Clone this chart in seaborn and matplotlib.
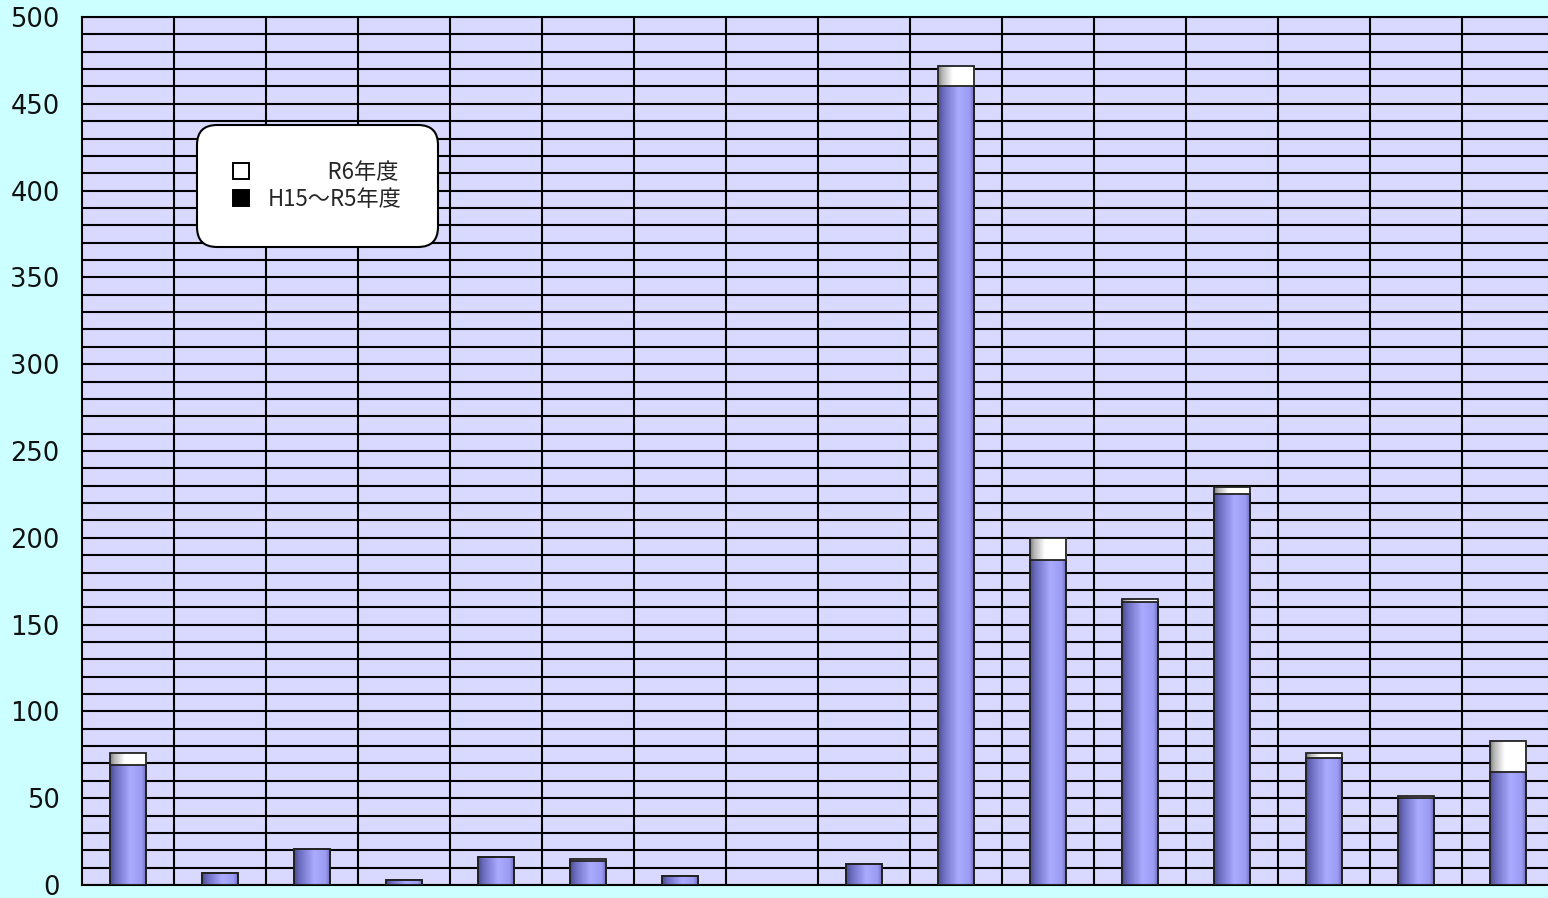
import numpy as np
import pandas as pd
import matplotlib
matplotlib.use("Agg")
import matplotlib.pyplot as plt
from matplotlib.colors import LinearSegmentedColormap
from matplotlib.patches import Patch
import seaborn as sns

# ---- data ----
categories = [f"区分{i}" for i in range(1, 17)]
h15_r5 = [69, 7, 21, 3, 16, 14, 5, 0, 12, 460, 187, 163, 225, 73, 50, 65]
r6 = [7, 0, 0, 0, 0, 1, 0, 0, 0, 12, 13, 2, 4, 3, 1, 18]
legend_labels = ["R6年度", "H15～R5年度"]
y_ticks = [0, 50, 100, 150, 200, 250, 300, 350, 400, 450, 500]

totals = [a + b for a, b in zip(h15_r5, r6)]
df = pd.DataFrame({"cat": categories, "bottom": h15_r5, "total": totals})

sns.set_theme(style="white")
plt.rcParams["font.family"] = ["Noto Sans CJK JP", "DejaVu Sans"]

fig = plt.figure(figsize=(15.48, 8.98), dpi=100, facecolor="#CCFFFF")
ax = fig.add_axes([82 / 1548, 13 / 898, 1472 / 1548, 868 / 898])
ax.set_facecolor("#D9D9FF")

sns.barplot(data=df, x="cat", y="total", color="white", width=0.4,
            edgecolor="#222222", linewidth=1.3, saturation=1, ax=ax)
n_tot = len(ax.patches)
sns.barplot(data=df, x="cat", y="bottom", color="#9999FF", width=0.4,
            edgecolor="#222222", linewidth=1.3, saturation=1, ax=ax)

blue_cmap = LinearSegmentedColormap.from_list(
    "b", [(0, "#4a4a8c"), (0.15, "#6c6cc0"), (0.55, "#aaaaff"), (0.85, "#9c9cf4"), (1, "#6a6ab8")])
white_cmap = LinearSegmentedColormap.from_list(
    "w", [(0, "#7a7a7a"), (0.12, "#b8b8b8"), (0.4, "#ffffff"), (1, "#ffffff")])
grad = np.linspace(0, 1, 256).reshape(1, -1)

for i, p in enumerate(list(ax.patches)):
    h = p.get_height()
    if h <= 0:
        continue
    x, y, w = p.get_x(), p.get_y(), p.get_width()
    cmap = white_cmap if i < n_tot else blue_cmap
    im = ax.imshow(grad, cmap=cmap, extent=[x, x + w, y, y + h], aspect="auto",
                   zorder=2, interpolation="bilinear")
    im.set_clip_path(p)
    p.set_facecolor("none")
    p.set_zorder(3)

ax.set_xlim(-0.5, len(categories) - 0.5)
ax.set_ylim(0, 500)
ax.set_yticks(y_ticks)
ax.set_yticks(np.arange(0, 501, 10), minor=True)
ax.set_xticks(np.arange(0.5, len(categories) - 0.5, 1), minor=True)
ax.set_xticks([])
ax.set_xlabel("")
ax.set_ylabel("")
ax.grid(True, which="minor", axis="both", color="black", linewidth=1.5)
ax.grid(True, which="major", axis="y", color="black", linewidth=1.5)
ax.set_axisbelow(True)
ax.tick_params(axis="y", which="both", length=0, pad=16, labelsize=18.5, labelcolor="#111111")
for lab in ax.get_yticklabels():
    lab.set_fontfamily("DejaVu Sans")
for s in ax.spines.values():
    s.set_visible(True)
    s.set_color("black")
    s.set_linewidth(1.5)

handles = [Patch(facecolor="white", edgecolor="black", linewidth=1.4),
           Patch(facecolor="black", edgecolor="black", linewidth=1.4)]
labels = ["\u2003\u2003   " + legend_labels[0], legend_labels[1]]
leg = ax.legend(handles, labels, loc="upper left",
                bbox_to_anchor=((197 - 82) / 1472, (885 - 125) / 868),
                borderaxespad=0,
                fontsize=16, frameon=True, framealpha=1, borderpad=1.6,
                handlelength=0.75, handleheight=0.75, handletextpad=0.85,
                labelspacing=0.2, fancybox=True)
frame = leg.get_frame()
frame.set_edgecolor("black")
frame.set_linewidth(1.5)
frame.set_facecolor("white")
frame.set_boxstyle("round", pad=0, rounding_size=0.9)
leg.set_zorder(5)

fig.savefig("out.png", dpi=100, facecolor=fig.get_facecolor())
